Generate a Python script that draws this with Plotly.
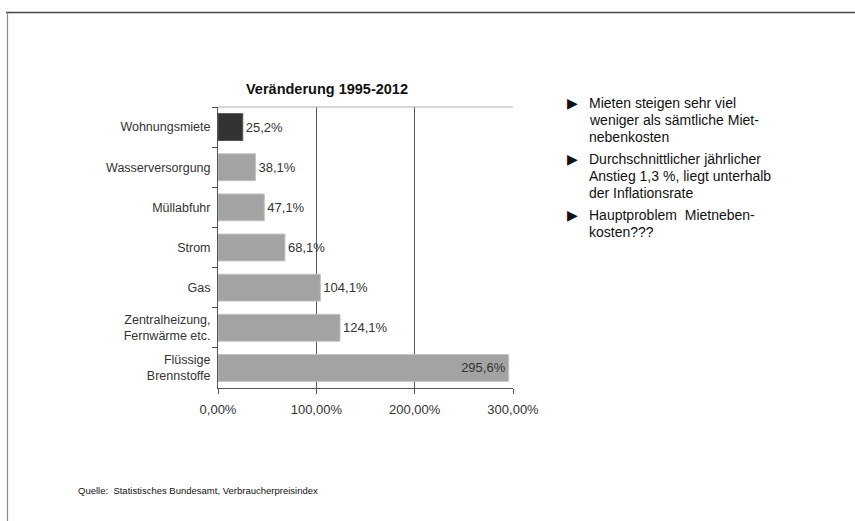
import plotly.graph_objects as go

# Price change 1995-2012 by housing cost component (percent)
categories = [
    "Wohnungsmiete",
    "Wasserversorgung",
    "Müllabfuhr",
    "Strom",
    "Gas",
    "Zentralheizung,<br>Fernwärme etc.",
    "Flüssige<br>Brennstoffe",
]
changes = [25.2, 38.1, 47.1, 68.1, 104.1, 124.1, 295.6]
x_ticks = [0, 100, 200, 300]
x_tick_labels = [f"{v:.2f}%".replace(".", ",") for v in x_ticks]

title_text = "Veränderung 1995-2012"
bullets = [
    ["Mieten steigen sehr viel", "weniger als sämtliche Miet-", "nebenkosten"],
    ["Durchschnittlicher jährlicher", "Anstieg 1,3 %, liegt unterhalb", "der Inflationsrate"],
    ["Hauptproblem  Mietneben-", "kosten???"],
]
source_text = "Quelle:  Statistisches Bundesamt, Verbraucherpreisindex"

W, H = 855, 521
L, R, T, B = 218, 513, 107, 388  # plot area in pixels
FONT = "Liberation Sans, Arial, sans-serif"
TXT = "#333333"


def px(xp):
    return (xp - L) / (R - L)


def py(yp):
    return (B - yp) / (B - T)


bar_colors = ["#333333"] + ["#a3a3a3"] * (len(categories) - 1)
line_colors = ["#555555"] + ["#c4c4c4"] * (len(categories) - 1)
positions = ["outside"] * (len(categories) - 1) + ["inside"]

fig = go.Figure(
    go.Bar(
        y=categories,
        x=changes,
        orientation="h",
        marker=dict(color=bar_colors, line=dict(color=line_colors, width=1)),
        texttemplate="%{x:.1f}%",
        textposition=positions,
        insidetextanchor="end",
        textfont=dict(family=FONT, size=13, color=TXT),
        insidetextfont=dict(family=FONT, size=13, color=TXT),
        outsidetextfont=dict(family=FONT, size=13, color=TXT),
        constraintext="none",
        cliponaxis=False,
        hoverinfo="skip",
    )
)

fig.update_layout(
    width=W,
    height=H,
    margin=dict(l=L, r=W - R, t=T, b=H - B),
    paper_bgcolor="white",
    plot_bgcolor="white",
    separators=",.",
    bargap=0.33,
    showlegend=False,
    font=dict(family=FONT, color=TXT),
    title=dict(
        text="<b>" + title_text + "</b>",
        font=dict(family=FONT, size=14.5, color="#111111"),
        xref="container",
        yref="container",
        x=327 / W,
        y=1 - 89 / H,
        xanchor="center",
        yanchor="middle",
    ),
)

fig.update_xaxes(
    range=[0, 300],
    tickmode="array",
    tickvals=x_ticks,
    ticktext=x_tick_labels,
    showgrid=True,
    gridcolor="#555555",
    gridwidth=1,
    zeroline=False,
    showline=True,
    linecolor="#555555",
    linewidth=1,
    ticks="outside",
    ticklen=5,
    tickcolor="#555555",
    tickfont=dict(family=FONT, size=13, color=TXT),
    ticklabelstandoff=4,
)

fig.update_yaxes(
    autorange="reversed",
    showline=True,
    linecolor="#555555",
    linewidth=1,
    ticks="outside",
    ticklen=5,
    tickcolor="#555555",
    tickson="boundaries",
    showgrid=False,
    tickfont=dict(family=FONT, size=12.5, color=TXT),
    ticklabelstandoff=4,
)

shapes = [
    # light line along the top of the plot area
    dict(type="line", xref="paper", yref="paper", x0=0, x1=1, y0=1, y1=1,
         line=dict(color="#b0b0b0", width=1)),
    # slide frame: top and left edges
    dict(type="line", xref="paper", yref="paper", x0=px(6), x1=px(W + 2),
         y0=py(12.5), y1=py(12.5), line=dict(color="#444444", width=1.5)),
    dict(type="line", xref="paper", yref="paper", x0=px(7.5), x1=px(7.5),
         y0=py(12.5), y1=py(H + 2), line=dict(color="#8a8a8a", width=1.2)),
]

annotations = []
line_y = [[103, 120, 137], [159, 176, 193], [215, 232]]
for block, ys in zip(bullets, line_y):
    annotations.append(dict(
        text="▶", xref="paper", yref="paper", x=px(565), y=py(ys[0]),
        xanchor="left", yanchor="middle", showarrow=False,
        font=dict(family="DejaVu Sans, sans-serif", size=14, color="#111111"),
    ))
    for line, yy in zip(block, ys):
        annotations.append(dict(
            text=line, xref="paper", yref="paper", x=px(587), y=py(yy),
            xanchor="left", yanchor="middle", showarrow=False,
            font=dict(family=FONT, size=14, color="#111111"),
        ))

annotations.append(dict(
    text=source_text, xref="paper", yref="paper", x=px(76), y=py(490),
    xanchor="left", yanchor="middle", showarrow=False,
    font=dict(family=FONT, size=9.5, color="#111111"),
))

fig.update_layout(shapes=shapes, annotations=annotations)

fig.write_html("out.html")
